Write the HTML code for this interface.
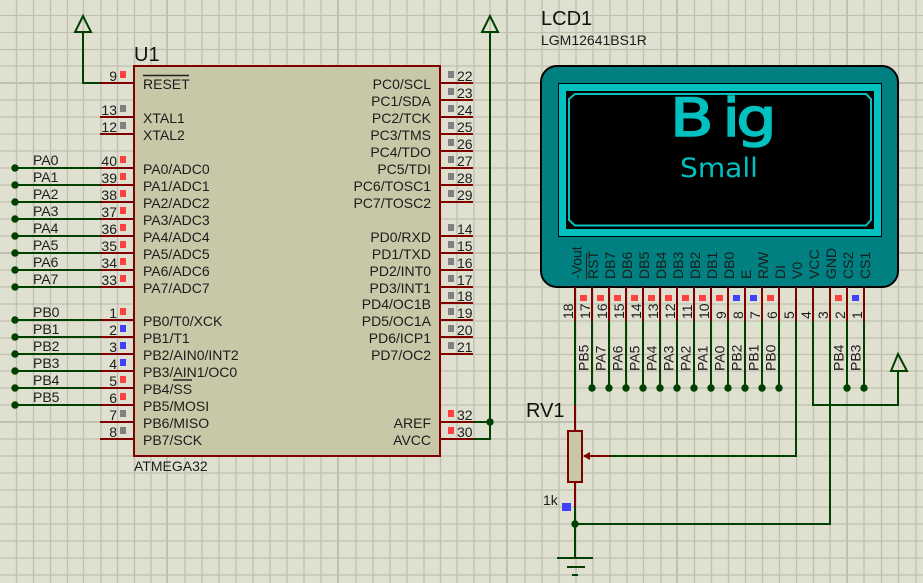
<!DOCTYPE html>
<html><head><meta charset="utf-8"><title>ATMEGA32 LCD schematic</title>
<style>
html,body{margin:0;padding:0;background:#e0e0d0;width:923px;height:583px;overflow:hidden}
svg{display:block}
text{font-family:"Liberation Sans",sans-serif;font-size:14px;fill:#1c1c1c}
.big{font-size:20px;fill:#111}
.e{text-anchor:end}
.w{fill:none;stroke:#004000;stroke-width:2}
.p{fill:none;stroke:#800000;stroke-width:2}
.j{fill:#004000}
.r{fill:#ff4040}.g{fill:#808080}.b{fill:#4040ff}
</style></head><body>
<svg width="923" height="583" viewBox="0 0 923 583" xmlns="http://www.w3.org/2000/svg">
<rect width="923" height="583" fill="#e0e0d0"/>
<path fill="none" stroke="#c0c0b0" stroke-width="1.3" d="M16.5 0V583M33.5 0V583M50.5 0V583M67.5 0V583M83.5 0V583M101 0V583M117.5 0V583M134.5 0V583M151 0V583M185 0V583M202 0V583M219 0V583M236 0V583M253 0V583M270 0V583M287 0V583M304 0V583M321 0V583M356 0V583M373 0V583M390 0V583M407 0V583M424 0V583M440.5 0V583M457 0V583M474 0V583M490 0V583M525 0V583M542 0V583M559 0V583M576 0V583M593 0V583M610 0V583M627 0V583M643.5 0V583M661 0V583M694.5 0V583M711.5 0V583M728.5 0V583M745.5 0V583M762.5 0V583M779.5 0V583M796.5 0V583M813.5 0V583M830 0V583M864 0V583M881.5 0V583M898.5 0V583M916 0V583
M0 15.5H923M0 32.5H923M0 49.5H923M0 66H923M0 100H923M0 117H923M0 134H923M0 151H923M0 168H923M0 185H923M0 202H923M0 219H923M0 236H923M0 270H923M0 287H923M0 304H923M0 321H923M0 338H923M0 354.5H923M0 371H923M0 388H923M0 405H923M0 439H923M0 456H923M0 473H923M0 490H923M0 507H923M0 524H923M0 541H923M0 558H923M0 575H923"/>
<path fill="none" stroke="#c0c0b0" stroke-width="2" d="M167 0V583M338 0V583M507 0V583M677 0V583M847 0V583M0 83H923M0 253H923M0 422H923"/>

<!-- U1 -->
<rect x="134" y="66" width="306" height="390" fill="#c8c8a8" stroke="#800000" stroke-width="2"/>
<path class="p" d="M100 83H134M100 117H134M100 134H134M100 168H134M100 185H134M100 202H134M100 219H134M100 236H134M100 253H134M100 270H134M100 287H134M100 320H134M100 337H134M100 354H134M100 371H134M100 388H134M100 405H134M100 422H134M100 439H134
M440 83H473M440 100H473M440 117H473M440 134H473M440 151H473M440 168H473M440 185H473M440 202H473M440 236H473M440 253H473M440 270H473M440 287H473M440 303H473M440 320H473M440 337H473M440 354H473M440 422H473M440 439H473"/>
<path class="w" d="M83 32V83H100M15 168H100M15 185H100M15 202H100M15 219H100M15 236H100M15 253H100M15 270H100M15 287H100M15 320H100M15 337H100M15 354H100M15 371H100M15 388H100M15 405H100M473 422H490M473 439H490V32"/>
<path class="w" d="M83 16L75 32H91ZM490 16L482 32H498Z"/>
<g class="j">
<circle cx="15" cy="168" r="3.7"/><circle cx="15" cy="185" r="3.7"/><circle cx="15" cy="202" r="3.7"/><circle cx="15" cy="219" r="3.7"/><circle cx="15" cy="236" r="3.7"/><circle cx="15" cy="253" r="3.7"/><circle cx="15" cy="270" r="3.7"/><circle cx="15" cy="287" r="3.7"/><circle cx="15" cy="320" r="3.7"/><circle cx="15" cy="337" r="3.7"/><circle cx="15" cy="354" r="3.7"/><circle cx="15" cy="371" r="3.7"/><circle cx="15" cy="388" r="3.7"/><circle cx="15" cy="405" r="3.7"/><circle cx="490" cy="422" r="3.7"/>
</g>
<text class="big" x="134" y="61">U1</text>
<text x="134" y="471">ATMEGA32</text>
<path d="M143 75.5H189M173 380H192" stroke="#222" stroke-width="1.4" fill="none"/>

<!-- left internal labels -->
<text x="143" y="89">RESET</text><text x="143" y="123">XTAL1</text><text x="143" y="140">XTAL2</text>
<text x="143" y="174">PA0/ADC0</text><text x="143" y="191">PA1/ADC1</text><text x="143" y="208">PA2/ADC2</text><text x="143" y="225">PA3/ADC3</text><text x="143" y="242">PA4/ADC4</text><text x="143" y="259">PA5/ADC5</text><text x="143" y="276">PA6/ADC6</text><text x="143" y="293">PA7/ADC7</text>
<text x="143" y="326">PB0/T0/XCK</text><text x="143" y="343">PB1/T1</text><text x="143" y="360">PB2/AIN0/INT2</text><text x="143" y="377">PB3/AIN1/OC0</text><text x="143" y="394">PB4/SS</text><text x="143" y="411">PB5/MOSI</text><text x="143" y="428">PB6/MISO</text><text x="143" y="445">PB7/SCK</text>
<!-- right internal labels -->
<g class="e">
<text class="e" x="431" y="89">PC0/SCL</text><text class="e" x="431" y="106">PC1/SDA</text><text class="e" x="431" y="123">PC2/TCK</text><text class="e" x="431" y="140">PC3/TMS</text><text class="e" x="431" y="157">PC4/TDO</text><text class="e" x="431" y="174">PC5/TDI</text><text class="e" x="431" y="191">PC6/TOSC1</text><text class="e" x="431" y="208">PC7/TOSC2</text>
<text class="e" x="431" y="242">PD0/RXD</text><text class="e" x="431" y="259">PD1/TXD</text><text class="e" x="431" y="276">PD2/INT0</text><text class="e" x="431" y="293">PD3/INT1</text><text class="e" x="431" y="309">PD4/OC1B</text><text class="e" x="431" y="326">PD5/OC1A</text><text class="e" x="431" y="343">PD6/ICP1</text><text class="e" x="431" y="360">PD7/OC2</text>
<text class="e" x="431" y="428">AREF</text><text class="e" x="431" y="445">AVCC</text>
</g>
<!-- left pin numbers -->
<text class="e" x="117" y="81">9</text><text class="e" x="117" y="115">13</text><text class="e" x="117" y="132">12</text><text class="e" x="117" y="166">40</text><text class="e" x="117" y="183">39</text><text class="e" x="117" y="200">38</text><text class="e" x="117" y="217">37</text><text class="e" x="117" y="234">36</text><text class="e" x="117" y="251">35</text><text class="e" x="117" y="268">34</text><text class="e" x="117" y="285">33</text><text class="e" x="117" y="318">1</text><text class="e" x="117" y="335">2</text><text class="e" x="117" y="352">3</text><text class="e" x="117" y="369">4</text><text class="e" x="117" y="386">5</text><text class="e" x="117" y="403">6</text><text class="e" x="117" y="420">7</text><text class="e" x="117" y="437">8</text>
<!-- right pin numbers -->
<text x="457" y="81">22</text><text x="457" y="98">23</text><text x="457" y="115">24</text><text x="457" y="132">25</text><text x="457" y="149">26</text><text x="457" y="166">27</text><text x="457" y="183">28</text><text x="457" y="200">29</text><text x="457" y="234">14</text><text x="457" y="251">15</text><text x="457" y="268">16</text><text x="457" y="285">17</text><text x="457" y="301">18</text><text x="457" y="318">19</text><text x="457" y="335">20</text><text x="457" y="352">21</text><text x="457" y="420">32</text><text x="457" y="437">30</text>
<!-- net labels left -->
<text x="33" y="165">PA0</text><text x="33" y="182">PA1</text><text x="33" y="199">PA2</text><text x="33" y="216">PA3</text><text x="33" y="233">PA4</text><text x="33" y="250">PA5</text><text x="33" y="267">PA6</text><text x="33" y="284">PA7</text><text x="33" y="317">PB0</text><text x="33" y="334">PB1</text><text x="33" y="351">PB2</text><text x="33" y="368">PB3</text><text x="33" y="385">PB4</text><text x="33" y="402">PB5</text>
<!-- status squares left -->
<rect class="r" x="120" y="71" width="6" height="7"/><rect class="g" x="120" y="105" width="6" height="7"/><rect class="g" x="120" y="122" width="6" height="7"/>
<rect class="r" x="120" y="156" width="6" height="7"/><rect class="r" x="120" y="173" width="6" height="7"/><rect class="r" x="120" y="190" width="6" height="7"/><rect class="r" x="120" y="207" width="6" height="7"/><rect class="r" x="120" y="224" width="6" height="7"/><rect class="r" x="120" y="241" width="6" height="7"/><rect class="r" x="120" y="258" width="6" height="7"/><rect class="r" x="120" y="275" width="6" height="7"/>
<rect class="r" x="120" y="308" width="6" height="7"/><rect class="b" x="120" y="325" width="6" height="7"/><rect class="b" x="120" y="342" width="6" height="7"/><rect class="b" x="120" y="359" width="6" height="7"/><rect class="r" x="120" y="376" width="6" height="7"/><rect class="r" x="120" y="393" width="6" height="7"/><rect class="g" x="120" y="410" width="6" height="7"/><rect class="g" x="120" y="427" width="6" height="7"/>
<!-- status squares right -->
<rect class="g" x="448" y="71" width="6" height="7"/><rect class="g" x="448" y="88" width="6" height="7"/><rect class="g" x="448" y="105" width="6" height="7"/><rect class="g" x="448" y="122" width="6" height="7"/><rect class="g" x="448" y="139" width="6" height="7"/><rect class="g" x="448" y="156" width="6" height="7"/><rect class="g" x="448" y="173" width="6" height="7"/><rect class="g" x="448" y="190" width="6" height="7"/>
<rect class="g" x="448" y="224" width="6" height="7"/><rect class="g" x="448" y="241" width="6" height="7"/><rect class="g" x="448" y="258" width="6" height="7"/><rect class="g" x="448" y="275" width="6" height="7"/><rect class="g" x="448" y="292" width="6" height="7"/><rect class="g" x="448" y="308" width="6" height="7"/><rect class="g" x="448" y="325" width="6" height="7"/><rect class="g" x="448" y="342" width="6" height="7"/><rect class="r" x="448" y="410" width="6" height="7"/><rect class="r" x="448" y="427" width="6" height="7"/>

<!-- LCD -->
<text class="big" x="541" y="25">LCD1</text>
<text x="541" y="45">LGM12641BS1R</text>
<rect x="541" y="66" width="357" height="221" rx="16" ry="16" fill="#008080" stroke="#000" stroke-width="2"/>
<rect x="558.5" y="83.5" width="323" height="153" fill="#00c0c0" stroke="#000" stroke-width="1"/>
<rect x="566" y="91" width="308" height="138" fill="#000"/>
<path d="M575 94H866L871 99V220L866 225.500H575L569 220V99Z" fill="none" stroke="#00c0c0" stroke-width="2"/>
<text transform="scale(1.2 1)" x="558.3 602 613.5" y="136" style="font-family:'DejaVu Sans',sans-serif;font-size:53px;fill:#00c0c0;stroke:#00c0c0;stroke-width:1.5">Big</text>
<text x="680" y="177" textLength="78" lengthAdjust="spacingAndGlyphs" style="font-family:'DejaVu Sans',sans-serif;font-size:27px;fill:#00c0c0">Small</text>

<path class="p" d="M575 287V321M592 287V321M609 287V321M626 287V321M643 287V321M660 287V321M677 287V321M694 287V321M711 287V321M728 287V321M745 287V321M762 287V321M779 287V321M796 287V321M813 287V321M830 287V321M847 287V321M864 287V321"/>
<path class="w" d="M575 321V405M592 321V388M609 321V388M626 321V388M643 321V388M660 321V388M677 321V388M694 321V388M711 321V388M728 321V388M745 321V388M762 321V388M779 321V388M847 321V388M864 321V388M796 321V456H610M813 321V405H898V371M830 321V524H575M575 507V558"/>
<path class="w" d="M898 354L891 371H907Z"/>
<g class="j"><circle cx="592" cy="388" r="3.7"/><circle cx="609" cy="388" r="3.7"/><circle cx="626" cy="388" r="3.7"/><circle cx="643" cy="388" r="3.7"/><circle cx="660" cy="388" r="3.7"/><circle cx="677" cy="388" r="3.7"/><circle cx="694" cy="388" r="3.7"/><circle cx="711" cy="388" r="3.7"/><circle cx="728" cy="388" r="3.7"/><circle cx="745" cy="388" r="3.7"/><circle cx="762" cy="388" r="3.7"/><circle cx="779" cy="388" r="3.7"/><circle cx="847" cy="388" r="3.7"/><circle cx="864" cy="388" r="3.7"/><circle cx="575" cy="524" r="3.7"/></g>

<!-- LCD pin names -->
<text transform="translate(581.500 279) rotate(-90)">-Vout</text>
<text transform="translate(598 279) rotate(-90)">RST</text>
<text transform="translate(615 279) rotate(-90)">DB7</text>
<text transform="translate(632 279) rotate(-90)">DB6</text>
<text transform="translate(649 279) rotate(-90)">DB5</text>
<text transform="translate(666 279) rotate(-90)">DB4</text>
<text transform="translate(683 279) rotate(-90)">DB3</text>
<text transform="translate(700 279) rotate(-90)">DB2</text>
<text transform="translate(717 279) rotate(-90)">DB1</text>
<text transform="translate(734 279) rotate(-90)">DB0</text>
<text transform="translate(751 279) rotate(-90)">E</text>
<text transform="translate(768 279) rotate(-90)">R/W</text>
<text transform="translate(785 279) rotate(-90)">DI</text>
<text transform="translate(802 279) rotate(-90)">V0</text>
<text transform="translate(819 279) rotate(-90)">VCC</text>
<text transform="translate(836 279) rotate(-90)">GND</text>
<text transform="translate(853 279) rotate(-90)">CS2</text>
<text transform="translate(870 279) rotate(-90)">CS1</text>
<path d="M586.500 253V279" stroke="#222" stroke-width="1.200"/>
<!-- LCD pin numbers -->
<text transform="translate(573 319) rotate(-90)">18</text>
<text transform="translate(590 319) rotate(-90)">17</text>
<text transform="translate(607 319) rotate(-90)">16</text>
<text transform="translate(624 319) rotate(-90)">15</text>
<text transform="translate(641 319) rotate(-90)">14</text>
<text transform="translate(658 319) rotate(-90)">13</text>
<text transform="translate(675 319) rotate(-90)">12</text>
<text transform="translate(692 319) rotate(-90)">11</text>
<text transform="translate(709 319) rotate(-90)">10</text>
<text transform="translate(726 319) rotate(-90)">9</text>
<text transform="translate(743 319) rotate(-90)">8</text>
<text transform="translate(760 319) rotate(-90)">7</text>
<text transform="translate(777 319) rotate(-90)">6</text>
<text transform="translate(794 319) rotate(-90)">5</text>
<text transform="translate(811 319) rotate(-90)">4</text>
<text transform="translate(828 319) rotate(-90)">3</text>
<text transform="translate(845 319) rotate(-90)">2</text>
<text transform="translate(862 319) rotate(-90)">1</text>
<!-- LCD squares -->
<rect class="r" x="580" y="295" width="7" height="6"/><rect class="r" x="597" y="295" width="7" height="6"/><rect class="r" x="614" y="295" width="7" height="6"/><rect class="r" x="631" y="295" width="7" height="6"/><rect class="r" x="648" y="295" width="7" height="6"/><rect class="r" x="665" y="295" width="7" height="6"/><rect class="r" x="682" y="295" width="7" height="6"/><rect class="r" x="699" y="295" width="7" height="6"/><rect class="r" x="716" y="295" width="7" height="6"/><rect class="b" x="733" y="295" width="7" height="6"/><rect class="b" x="750" y="295" width="7" height="6"/><rect class="r" x="767" y="295" width="7" height="6"/><rect class="r" x="835" y="295" width="7" height="6"/><rect class="b" x="852" y="295" width="7" height="6"/>
<!-- LCD net labels -->
<text transform="translate(588.500 371) rotate(-90)">PB5</text>
<text transform="translate(605.500 371) rotate(-90)">PA7</text>
<text transform="translate(622.500 371) rotate(-90)">PA6</text>
<text transform="translate(639.500 371) rotate(-90)">PA5</text>
<text transform="translate(656.500 371) rotate(-90)">PA4</text>
<text transform="translate(673.500 371) rotate(-90)">PA3</text>
<text transform="translate(690.500 371) rotate(-90)">PA2</text>
<text transform="translate(707.500 371) rotate(-90)">PA1</text>
<text transform="translate(724.500 371) rotate(-90)">PA0</text>
<text transform="translate(741.500 371) rotate(-90)">PB2</text>
<text transform="translate(758.500 371) rotate(-90)">PB1</text>
<text transform="translate(775.500 371) rotate(-90)">PB0</text>
<text transform="translate(843.500 371) rotate(-90)">PB4</text>
<text transform="translate(860.500 371) rotate(-90)">PB3</text>

<!-- RV1 -->
<path class="p" d="M575 405V431M575 482V507M610 456H584"/>
<rect x="568" y="431" width="14" height="51" fill="#c8c8a8" stroke="#800000" stroke-width="2"/>
<path d="M583 456L590 452V460Z" fill="#800000"/>
<text class="big" x="526" y="417">RV1</text>
<text x="543" y="505">1k</text>
<rect class="b" x="562" y="503" width="9" height="8"/>
<path class="w" d="M557 558H593M567 567H585M572 575H578"/>
</svg>
</body></html>
